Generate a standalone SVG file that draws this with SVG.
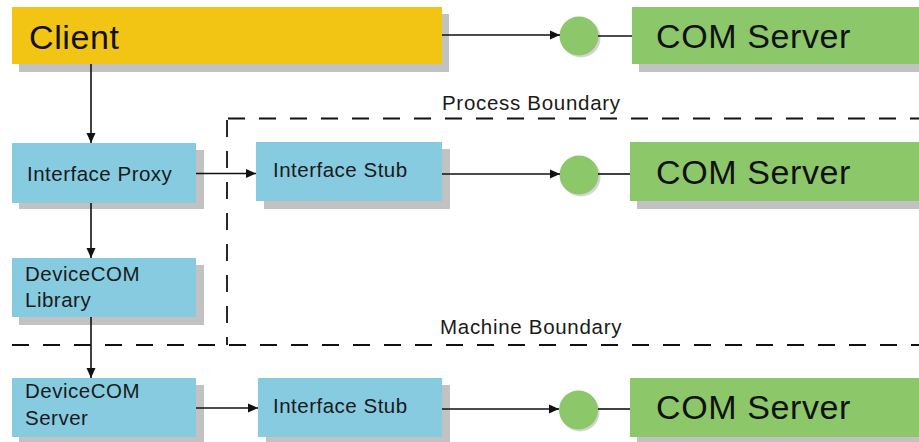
<svg xmlns="http://www.w3.org/2000/svg" width="919" height="442" viewBox="0 0 919 442">
  <defs>
    <marker id="arrow" markerWidth="11" markerHeight="10" refX="10" refY="5" orient="auto" markerUnits="userSpaceOnUse">
      <path d="M0,0.5 L10,5 L0,9.5 z" fill="#111"/>
    </marker>
  </defs>
  <style>
    .shadow { fill: #c2c2c2; }
    .client { fill: #f2c514; }
    .server { fill: #8cc76a; }
    .box { fill: #86cbe0; }
    .dot { fill: #8cc76a; }
    .dotshadow { fill: #d4d4d4; }
    .big { font-family: "Liberation Sans", Arial, sans-serif; font-size: 34px; fill: #111; letter-spacing: 0.6px; }
    .small { font-family: "Liberation Sans", Arial, sans-serif; font-size: 20.5px; fill: #1a1a1a; letter-spacing: 0.5px; }
    .label { font-family: "Liberation Sans", Arial, sans-serif; font-size: 20.5px; fill: #1a1a1a; letter-spacing: 0.7px; }
    .link { stroke: #111; stroke-width: 1.6; fill: none; }
    .bound { stroke: #111; stroke-width: 1.8; fill: none; stroke-dasharray: 17 14; }
  </style>

  <!-- boundaries -->
  <g id="boundaries">
    <path class="bound" d="M228,118.5 H919"/>
    <path class="bound" d="M227,120 V345"/>
    <path class="bound" d="M12,345 H919"/>
    <text class="label" x="442" y="110">Process Boundary</text>
    <text class="label" x="440" y="334">Machine Boundary</text>
  </g>

  <!-- client -->
  <g id="client">
    <rect class="shadow" x="19" y="14" width="430" height="58"/>
    <rect class="client" x="12" y="7" width="430" height="57"/>
    <text class="big" x="29" y="49">Client</text>
  </g>

  <!-- COM servers with interface dots -->
  <g id="com-server-1">
    <rect class="shadow" x="639" y="14" width="290" height="58"/>
    <rect class="server" x="632" y="7" width="300" height="57"/>
    <text class="big" x="656" y="48">COM Server</text>
  </g>
  <g id="dot-1">
    <circle class="dotshadow" cx="581" cy="38" r="19.5"/>
    <circle class="dot" cx="579" cy="36" r="19.5"/>
  </g>

  <g id="com-server-2">
    <rect class="shadow" x="637" y="149" width="290" height="60"/>
    <rect class="server" x="630" y="142" width="300" height="59"/>
    <text class="big" x="656" y="184">COM Server</text>
  </g>
  <g id="dot-2">
    <circle class="dotshadow" cx="581" cy="177" r="19.5"/>
    <circle class="dot" cx="579" cy="175" r="19.5"/>
  </g>

  <g id="com-server-3">
    <rect class="shadow" x="637" y="385" width="290" height="60"/>
    <rect class="server" x="630" y="378" width="300" height="59"/>
    <text class="big" x="656" y="419">COM Server</text>
  </g>
  <g id="dot-3">
    <circle class="dotshadow" cx="580" cy="412" r="19.5"/>
    <circle class="dot" cx="578.5" cy="410" r="19.5"/>
  </g>

  <!-- proxy side -->
  <g id="interface-proxy">
    <rect class="shadow" x="19" y="150" width="185" height="59"/>
    <rect class="box" x="12" y="143" width="184" height="60"/>
    <text class="small" x="27" y="181">Interface Proxy</text>
  </g>
  <g id="devicecom-library">
    <rect class="shadow" x="19" y="265" width="185" height="60"/>
    <rect class="box" x="12" y="258" width="184" height="59"/>
    <text class="small" x="25" y="281">DeviceCOM</text>
    <text class="small" x="25" y="307">Library</text>
  </g>
  <g id="devicecom-server">
    <rect class="shadow" x="19" y="385" width="185" height="60"/>
    <rect class="box" x="12" y="378" width="184" height="59"/>
    <text class="small" x="25" y="398">DeviceCOM</text>
    <text class="small" x="25" y="425">Server</text>
  </g>

  <!-- stubs -->
  <g id="interface-stub-1">
    <rect class="shadow" x="264" y="149" width="186" height="60"/>
    <rect class="box" x="256" y="142" width="186" height="59"/>
    <text class="small" x="273" y="177">Interface Stub</text>
  </g>
  <g id="interface-stub-2">
    <rect class="shadow" x="266" y="385" width="184" height="60"/>
    <rect class="box" x="258" y="378" width="184" height="59"/>
    <text class="small" x="273" y="413">Interface Stub</text>
  </g>

  <!-- connectors -->
  <g id="connectors">
    <path class="link" d="M442,35 H560" marker-end="url(#arrow)"/>
    <path class="link" d="M598,36 H632"/>
    <path class="link" d="M91,64 V143" marker-end="url(#arrow)"/>
    <path class="link" d="M196,173.5 H256" marker-end="url(#arrow)"/>
    <path class="link" d="M442,174 H560" marker-end="url(#arrow)"/>
    <path class="link" d="M598,174 H630"/>
    <path class="link" d="M91,203 V258" marker-end="url(#arrow)"/>
    <path class="link" d="M91,317 V378" marker-end="url(#arrow)"/>
    <path class="link" d="M196,408 H258" marker-end="url(#arrow)"/>
    <path class="link" d="M442,409 H559" marker-end="url(#arrow)"/>
    <path class="link" d="M598,409 H630"/>
  </g>
</svg>
